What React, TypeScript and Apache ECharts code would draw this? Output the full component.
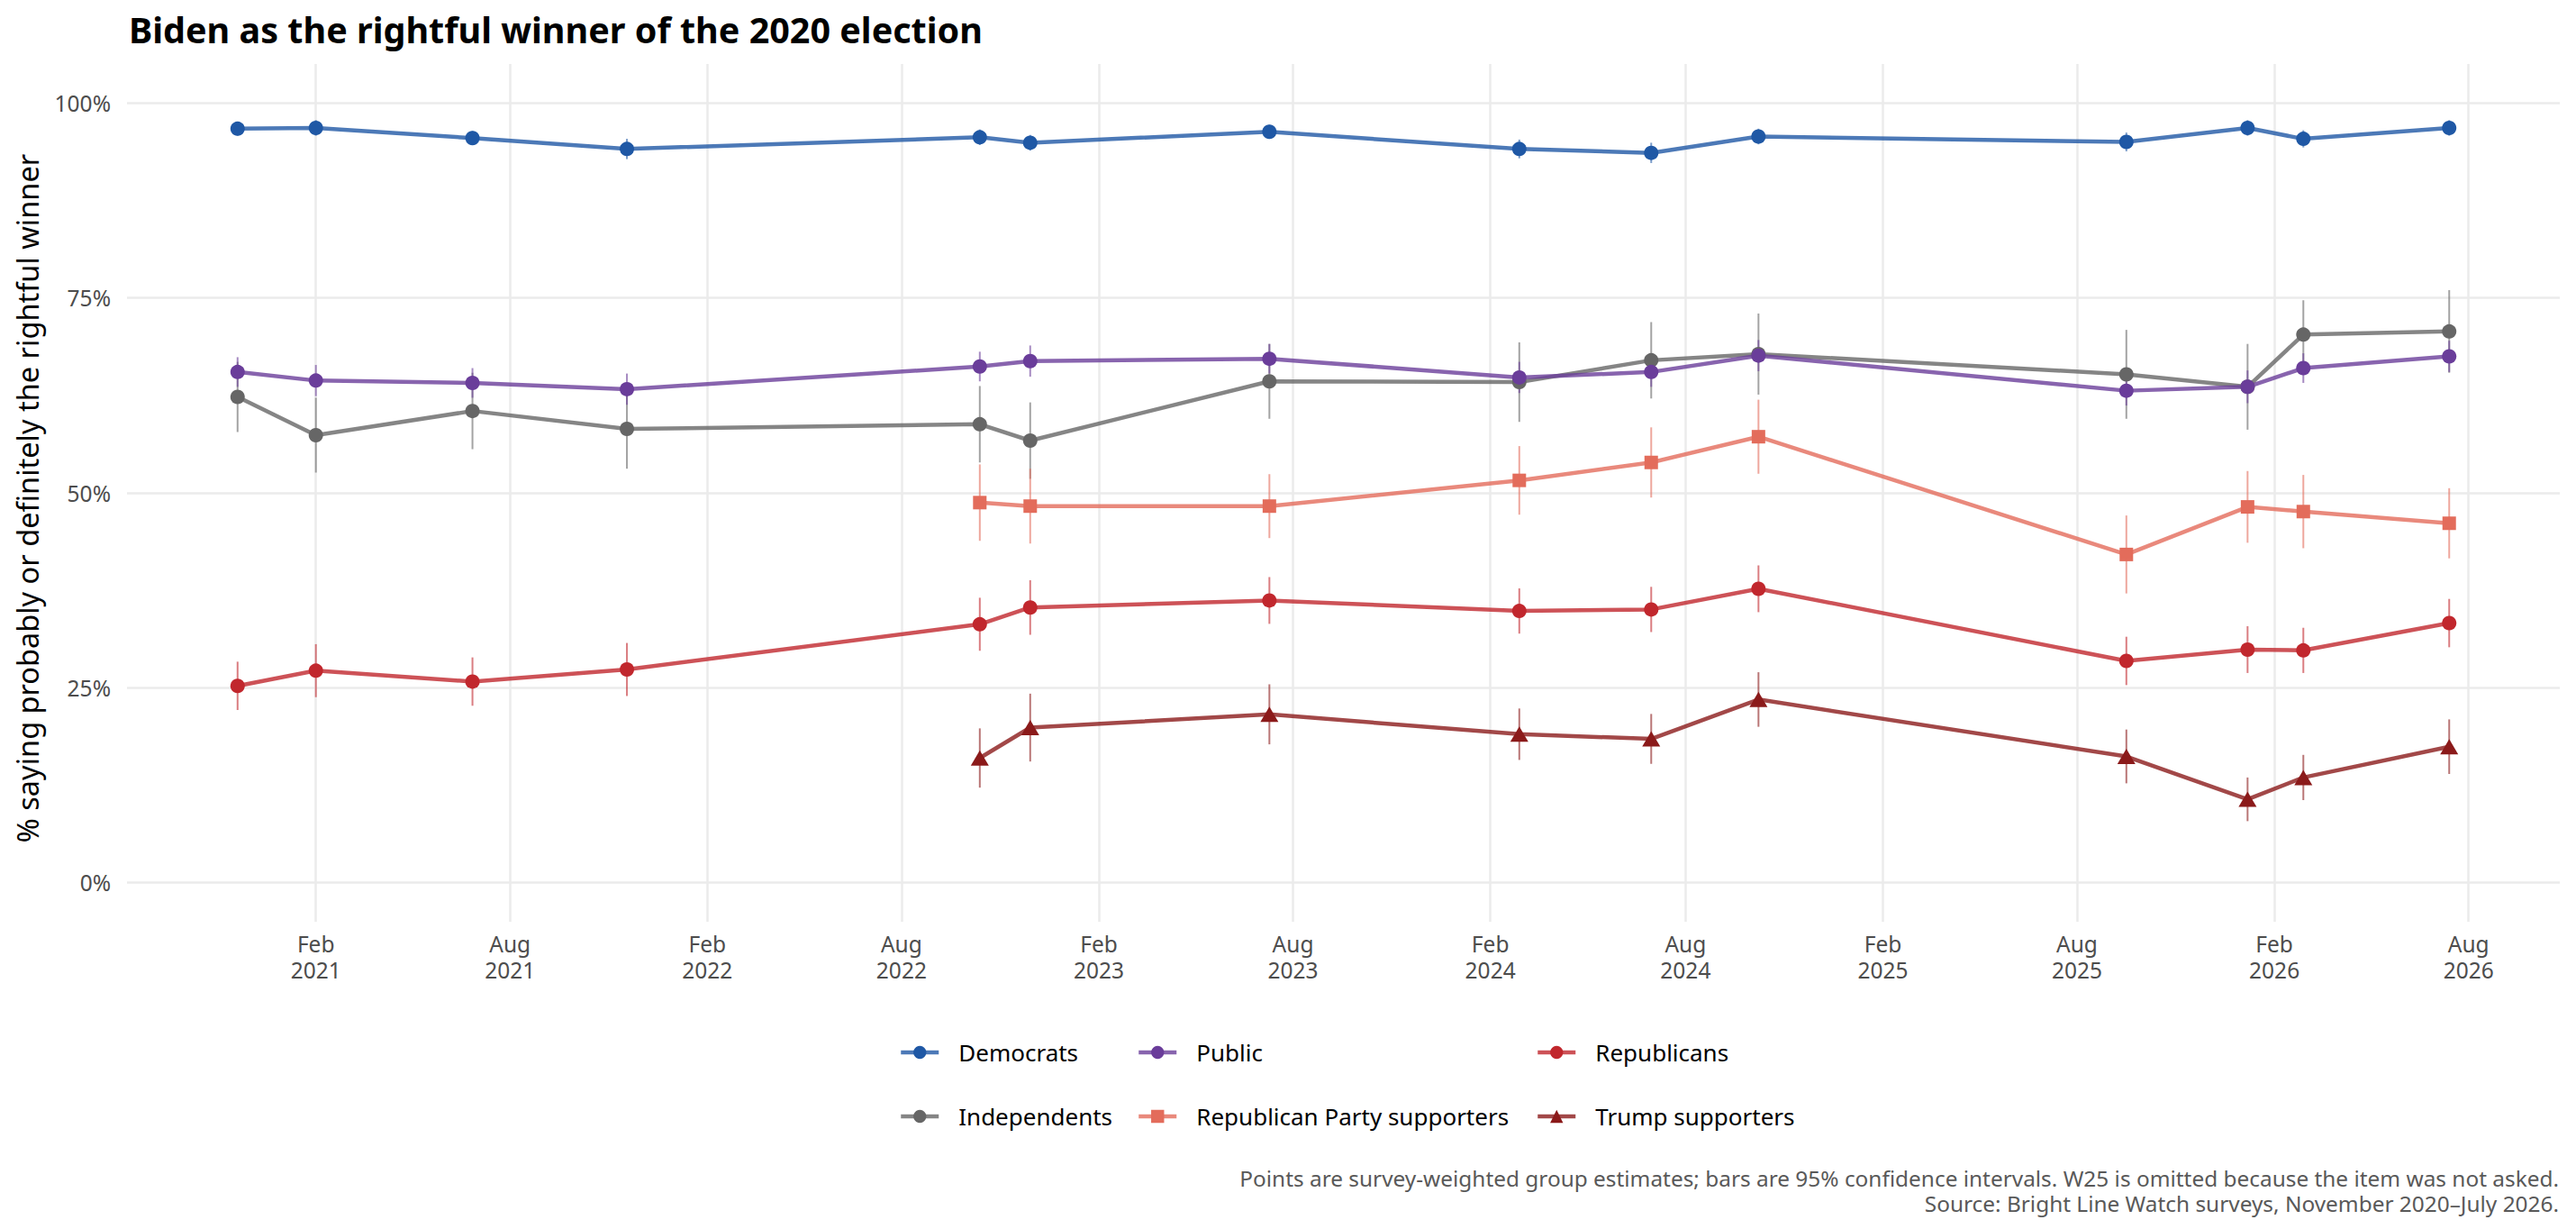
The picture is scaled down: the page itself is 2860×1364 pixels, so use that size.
import React, { useEffect, useRef } from "react";
import * as echarts from "echarts";

// ---------- data ----------
const waveDates = [
  "2020-11-20", "2021-02-01", "2021-06-27", "2021-11-18", "2022-10-13", "2022-11-29", "2023-07-10",
  "2024-02-28", "2024-06-30", "2024-10-08", "2025-09-16", "2026-01-07", "2026-02-28", "2026-07-14",
];

const democrats = [96.7, 96.8, 95.5, 94.1, 95.6, 94.9, 96.3, 94.1, 93.6, 95.7, 95.0, 96.8, 95.4, 96.8];
const democratsCI = [0.9, 1.0, 0.9, 1.3, 1.0, 1.0, 0.9, 1.2, 1.3, 1.0, 1.2, 1.0, 1.1, 1.0];

const independents = [62.3, 57.4, 60.5, 58.2, 58.8, 56.7, 64.3, 64.2, 67.0, 67.8, 65.2, 63.6, 70.3, 70.7];
const independentsCI = [4.5, 4.8, 4.9, 5.1, 4.9, 4.9, 4.8, 5.1, 4.9, 5.2, 5.7, 5.5, 4.4, 5.3];

const publicAll = [65.5, 64.4, 64.1, 63.3, 66.2, 66.9, 67.2, 64.8, 65.5, 67.6, 63.1, 63.6, 66.0, 67.5];
const publicCI = [1.9, 2.0, 1.9, 2.0, 1.9, 2.0, 1.9, 2.0, 1.9, 2.0, 1.9, 2.1, 1.9, 2.0];

const repPartySupporters = [null, null, null, null, 48.75, 48.3, 48.3, 51.6, 53.9, 57.2, 42.1, 48.2, 47.6, 46.1];
const repPartySupportersCI = [null, null, null, null, 4.9, 4.8, 4.1, 4.4, 4.5, 4.75, 5.0, 4.6, 4.7, 4.5];

const republicans = [25.25, 27.2, 25.8, 27.35, 33.15, 35.3, 36.2, 34.85, 35.05, 37.7, 28.45, 29.9, 29.8, 33.3];
const republicansCI = [3.1, 3.4, 3.1, 3.4, 3.4, 3.5, 3.0, 2.9, 2.9, 3.0, 3.1, 3.0, 2.9, 3.1];

const trumpSupporters = [null, null, null, null, 16.0, 19.9, 21.6, 19.05, 18.45, 23.5, 16.2, 10.7, 13.5, 17.45];
const trumpSupportersCI = [null, null, null, null, 3.8, 4.35, 3.85, 3.3, 3.2, 3.5, 3.45, 2.8, 2.9, 3.5];

const groupNames = [
  "Democrats", "Independents", "Public", "Republican Party supporters", "Republicans", "Trump supporters",
];
const groupValues = [democrats, independents, publicAll, repPartySupporters, republicans, trumpSupporters];
const groupCIs = [democratsCI, independentsCI, publicCI, repPartySupportersCI, republicansCI, trumpSupportersCI];
const groupColors = ["#1f58a5", "#666666", "#6a3d9a", "#e36c5b", "#c1272d", "#8b1a1a"];
const groupSymbols = ["circle", "circle", "circle", "rect", "circle", "triangle"];

const xTickDates = [
  "2021-02-01", "2021-08-01", "2022-02-01", "2022-08-01", "2023-02-01", "2023-08-01",
  "2024-02-01", "2024-08-01", "2025-02-01", "2025-08-01", "2026-02-01", "2026-08-01",
];
const yTicks = [0, 25, 50, 75, 100];
const monthAbbr = ["Jan", "Feb", "Mar", "Apr", "May", "Jun", "Jul", "Aug", "Sep", "Oct", "Nov", "Dec"];

const titleText = "Biden as the rightful winner of the 2020 election";
const yTitleText = "% saying probably or definitely the rightful winner";
const captionLines = [
  "Points are survey-weighted group estimates; bars are 95% confidence intervals. W25 is omitted because the item was not asked.",
  "Source: Bright Line Watch surveys, November 2020\u2013July 2026.",
];

// legend layout (name, left, rowCenterY)
const legendLayout: [string, number, number][] = [
  ["Democrats", 993, 1166],
  ["Public", 1257, 1166],
  ["Republicans", 1700, 1166],
  ["Independents", 993, 1237],
  ["Republican Party supporters", 1257, 1237],
  ["Trump supporters", 1700, 1237],
];

const FONT = "'Noto Sans', 'Open Sans', 'DejaVu Sans', sans-serif";

function toTs(s: string) {
  const [y, m, d] = s.split("-").map(Number);
  return Date.UTC(y, m - 1, d);
}

function symbolSizeFor(sym: string) {
  if (sym === "triangle") return [20, 17];
  if (sym === "rect") return 15;
  return 16;
}

export default function App() {
  const ref = useRef<HTMLDivElement>(null);

  useEffect(() => {
    if (!ref.current) return;
    const chart = echarts.init(ref.current, undefined, { renderer: "svg" });

    const times = waveDates.map(toTs);
    const first = times[0];
    const last = times[times.length - 1];
    const span = last - first;
    const xMin = first - 0.05 * span;
    const xMax = last + 0.05 * span;
    const xTicks = xTickDates.map(toTs);

    const lineSeries: any[] = [];
    const ciSeries: any[] = [];
    groupNames.forEach((name, gi) => {
      const vals = groupValues[gi];
      const cis = groupCIs[gi];
      const color = groupColors[gi];
      const pts: { t: number; v: number; c: number }[] = [];
      vals.forEach((v, i) => {
        if (v !== null && v !== undefined) pts.push({ t: times[i], v: v as number, c: cis[i] as number });
      });
      lineSeries.push({
        type: "line",
        name,
        z: 3,
        data: pts.map((p) => [p.t, p.v]),
        symbol: groupSymbols[gi],
        symbolSize: symbolSizeFor(groupSymbols[gi]),
        showSymbol: true,
        itemStyle: { color, opacity: 1 },
        lineStyle: { color, width: 4.5, opacity: 0.8 },
        emphasis: { disabled: true },
        silent: true,
      });
      ciSeries.push({
        type: "custom",
        name,
        z: 2,
        silent: true,
        data: pts.map((p) => [p.t, p.v - p.c, p.v + p.c]),
        encode: { x: 0, y: [1, 2] },
        renderItem: (params: any, api: any) => {
          const x = api.value(0);
          const lo = api.coord([x, api.value(1)]);
          const hi = api.coord([x, api.value(2)]);
          return {
            type: "line",
            shape: { x1: lo[0], y1: lo[1], x2: hi[0], y2: hi[1] },
            style: { stroke: color, lineWidth: 2, opacity: 0.6 },
          };
        },
      });
    });

    const legends = legendLayout.map(([name, left, cy]) => ({
      show: true,
      data: [name],
      left,
      top: cy - 16,
      orient: "horizontal",
      itemWidth: 42,
      itemHeight: 18,
      selectedMode: false,
      lineStyle: { width: 4.5 },
      textStyle: {
        fontFamily: FONT,
        fontSize: 26,
        color: "#000000",
        padding: [0, 0, 0, 17],
      },
    }));

    const option: any = {
      animation: false,
      backgroundColor: "#ffffff",
      textStyle: { fontFamily: FONT },
      grid: { left: 141, right: 18, top: 71, bottom: 341, containLabel: false },
      xAxis: {
        type: "value",
        min: xMin,
        max: xMax,
        scale: true,
        axisLine: { show: false },
        axisTick: { show: false, customValues: xTicks },
        splitLine: { show: true, lineStyle: { color: "#ebebeb", width: 2.5 } },
        axisLabel: {
          customValues: xTicks,
          margin: 10,
          fontFamily: FONT,
          fontSize: 24.5,
          lineHeight: 29,
          color: "#4d4d4d",
          formatter: (v: number) => {
            const d = new Date(v);
            return monthAbbr[d.getUTCMonth()] + "\n" + d.getUTCFullYear();
          },
        },
      },
      yAxis: {
        type: "value",
        min: -5,
        max: 105,
        axisLine: { show: false },
        axisTick: { show: false, customValues: yTicks },
        splitLine: { show: true, lineStyle: { color: "#ebebeb", width: 2.5 } },
        axisLabel: {
          customValues: yTicks,
          margin: 18,
          fontFamily: FONT,
          fontSize: 24.5,
          color: "#4d4d4d",
          formatter: (v: number) => v + "%",
        },
      },
      legend: legends,
      series: [...lineSeries, ...ciSeries],
      graphic: [
        {
          type: "text",
          x: 143,
          y: 33,
          style: {
            text: titleText,
            font: `bold 39.5px ${FONT}`,
            fill: "#000000",
            textAlign: "left",
            textVerticalAlign: "middle",
          },
        },
        {
          type: "text",
          x: 30,
          y: 553,
          rotation: Math.PI / 2,
          style: {
            text: yTitleText,
            font: `32.5px ${FONT}`,
            fill: "#000000",
            textAlign: "center",
            textVerticalAlign: "middle",
          },
        },
        {
          type: "text",
          x: 2841,
          y: 1307,
          style: {
            text: captionLines[0],
            font: `24.4px ${FONT}`,
            fill: "#595959",
            textAlign: "right",
            textVerticalAlign: "middle",
          },
        },
        {
          type: "text",
          x: 2841,
          y: 1335.5,
          style: {
            text: captionLines[1],
            font: `24.4px ${FONT}`,
            fill: "#595959",
            textAlign: "right",
            textVerticalAlign: "middle",
          },
        },
      ],
    };

    chart.setOption(option);
    return () => {
      chart.dispose();
    };
  }, []);

  return (
    <div
      ref={ref}
      style={{ position: "fixed", left: 0, top: 0, width: 2860, height: 1364, background: "#ffffff" }}
    />
  );
}
